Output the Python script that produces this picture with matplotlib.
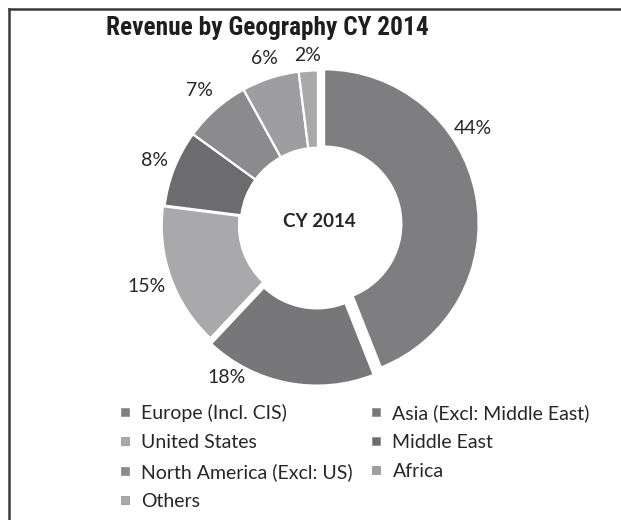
import matplotlib
matplotlib.use("Agg")
import matplotlib.pyplot as plt
from matplotlib.lines import Line2D
from matplotlib import font_manager
import numpy as np

# ---- data ----
regions = ["Europe (Incl. CIS)", "Asia (Excl: Middle East)", "United States",
           "Middle East", "North America (Excl: US)", "Africa", "Others"]
shares = [44, 18, 15, 8, 7, 6, 2]
colors = ["#7e7e81", "#77777a", "#a9a9ab", "#6c6c6f", "#8b8b8d", "#9e9ea0", "#a9a9ab"]
title = "Revenue by Geography CY 2014"
center_label = "CY 2014"

# ---- layout ----
explode = [0.04, 0.04, 0.012, 0, 0, 0, 0]
label_angle_shift = [21, -20, 0, 0, 0, 0, 0]   # degrees, best-fit style label placement
label_radius = [1.18, 1.15, 1.18, 1.14, 1.16, 1.13, 1.10]

installed = {f.name for f in font_manager.fontManager.ttflist}
title_font, title_size = "Roboto", 15.5
for cand, size in [("Liberation Sans Narrow", 18), ("DejaVu Sans Condensed", 16),
                   ("Roboto Condensed", 18.3)]:
    if cand in installed:
        title_font, title_size = cand, size
        break

W, H = 621, 520
fig = plt.figure(figsize=(W / 100, H / 100), dpi=100)
fig.patch.set_facecolor("white")

cx, cy, half = 318, 225, 170
ax = fig.add_axes([(cx - half) / W, (H - cy - half) / H, 2 * half / W, 2 * half / H])

body_font = ["Lato", "DejaVu Sans"]

wedges, _ = ax.pie(shares, colors=colors, startangle=90, counterclock=False,
                   explode=explode, radius=1.0,
                   wedgeprops=dict(width=0.5, edgecolor="white", linewidth=1.6))
ax.set_xlim(-1.1, 1.1)
ax.set_ylim(-1.1, 1.1)
ax.set_aspect("equal")
ax.axis("off")

for w, v, sh, r in zip(wedges, shares, label_angle_shift, label_radius):
    mid = np.deg2rad((w.theta1 + w.theta2) / 2 + sh)
    ax.text(r * np.cos(mid), r * np.sin(mid), f"{v}%",
            ha="center", va="center", fontsize=14, color="#262626", family=body_font)

ax.text(0.01, 0.02, center_label, ha="center", va="center", fontsize=13.5,
        fontweight="bold", color="#262626", family=body_font)

fig.text(267 / W, 1 - 28 / H, title, ha="center", va="center", fontsize=title_size,
         fontweight="bold", color="#1e1e1e", family=[title_font, "DejaVu Sans"])

# legend: column-major order to reproduce row-wise layout
order = [0, 2, 4, 6, 1, 3, 5]
handles = [Line2D([], [], marker="s", ls="", color=colors[i], markersize=6,
                  markeredgecolor="#8c8c8c", markeredgewidth=0.5) for i in order]
labels = [regions[i] for i in order]
leg = fig.legend(handles, labels, ncol=2, loc="upper left",
                 bbox_to_anchor=(119.6 / W, 1 - 404 / H),
                 frameon=False, borderpad=0, borderaxespad=0,
                 handlelength=0.55, handletextpad=0.55, columnspacing=0.95,
                 labelspacing=0.62, prop={"family": body_font, "size": 14})
for t in leg.get_texts():
    t.set_color("#262626")

# frame lines (top and left)
fig.add_artist(Line2D([8.5 / W, 1], [1 - 9 / H, 1 - 9 / H], color="#3a3a3a", lw=1.8,
                      transform=fig.transFigure))
fig.add_artist(Line2D([8.5 / W, 8.5 / W], [0, 1 - 9 / H], color="#3a3a3a", lw=1.8,
                      transform=fig.transFigure))

fig.savefig("out.png", dpi=100, facecolor="white")
